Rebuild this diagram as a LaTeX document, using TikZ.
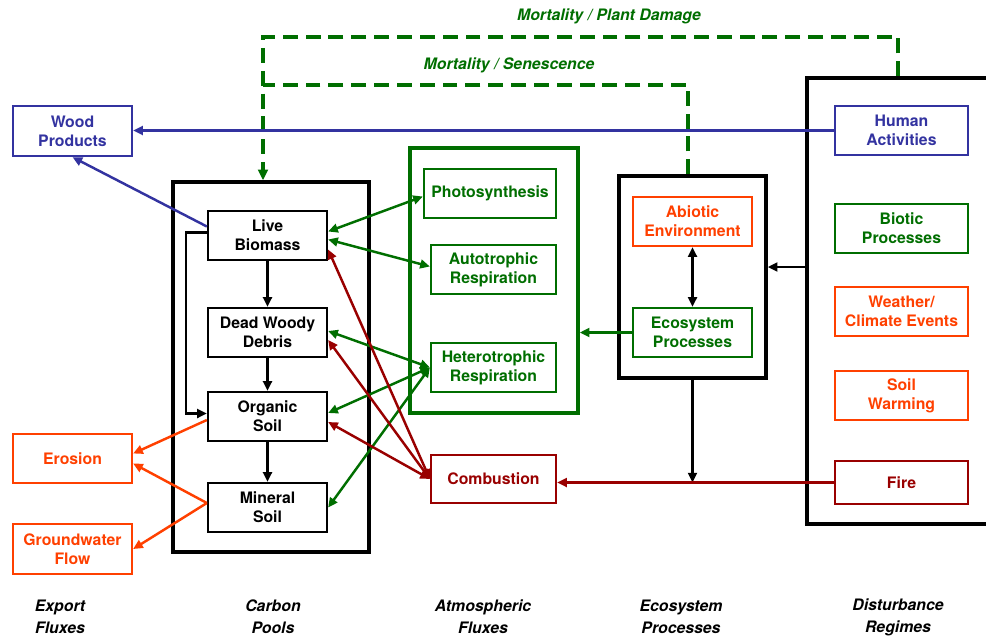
\documentclass[tikz,border=0pt]{standalone}
\usepackage{fontspec}
\setmainfont{TeX Gyre Heros}
\usetikzlibrary{arrows.meta,calc}
\definecolor{cblue}{RGB}{51,51,160}
\definecolor{cgreen}{RGB}{0,110,0}
\definecolor{corange}{RGB}{255,64,0}
\definecolor{cred}{RGB}{153,0,0}
\tikzset{
  box/.style={draw, line width=1.3pt, align=center, inner sep=0pt,
    font=\fontsize{9}{10.8}\selectfont\bfseries},
  sz/.style 2 args={minimum width=#1*0.02cm, minimum height=#2*0.02cm},
  pool/.style={draw, line width=2pt, inner sep=0pt},
  flow/.style={line width=1.4pt, -{Triangle[length=5.5pt,width=5pt]}},
  both/.style={line width=1.4pt,
    {Triangle[length=5.5pt,width=5pt]}-{Triangle[length=5.5pt,width=5pt]}},
  mort/.style={cgreen, line width=2pt, dash pattern=on 8.5pt off 4.5pt},
  lbl/.style={align=center, font=\fontsize{9}{12.5}\selectfont\bfseries\itshape},
}
\begin{document}
\begin{tikzpicture}[x=0.02cm, y=-0.02cm]
  \useasboundingbox (0,0) rectangle (986,639);
  % group frames
  \node[pool, sz={196}{370}] (pools) at (271,367) {};
  \node[pool, cgreen, sz={168}{265}] (atmos) at (494,280.5) {};
  \node[pool, sz={147}{202}] (ecosys) at (692.5,277) {};
  \node[pool, sz={193}{446}] (disturb) at (903.5,301) {};
  % export fluxes
  \node[box, cblue, sz={119}{50}] (wood) at (72.5,131) {Wood\\Products};
  \node[box, corange, sz={119}{49}] (erosion) at (72.5,458.5) {Erosion};
  \node[box, corange, sz={119}{50}] (gwflow) at (72.5,549) {Groundwater\\Flow};
  % carbon pools
  \node[box, sz={119}{49}] (live) at (267.5,235.5) {Live\\Biomass};
  \node[box, sz={119}{49}] (dead) at (267.5,332.5) {Dead Woody\\Debris};
  \node[box, sz={119}{49}] (organic) at (267.5,416.5) {Organic\\Soil};
  \node[box, sz={119}{49}] (mineral) at (267.5,507.5) {Mineral\\Soil};
  % atmospheric fluxes
  \node[box, cgreen, sz={132}{49}] (photo) at (490,193.5) {Photosynthesis};
  \node[box, cgreen, sz={125}{49}] (auto) at (493.5,269.5) {Autotrophic\\Respiration};
  \node[box, cgreen, sz={125}{49}] (hetero) at (493.5,367.5) {Heterotrophic\\Respiration};
  \node[box, cred, sz={125}{48}] (combust) at (493.5,479) {Combustion};
  % ecosystem processes
  \node[box, corange, sz={119}{49}] (abiotic) at (692.5,221.5) {Abiotic\\Environment};
  \node[box, cgreen, sz={119}{49}] (ecoproc) at (692.5,332.5) {Ecosystem\\Processes};
  % disturbance regimes
  \node[box, cblue, sz={133}{49}] (human) at (901.5,130.5) {Human\\Activities};
  \node[box, cgreen, sz={133}{49}] (biotic) at (901.5,228.5) {Biotic\\Processes};
  \node[box, corange, sz={133}{49}] (weather) at (901.5,311.5) {Weather/\\Climate Events};
  \node[box, corange, sz={133}{49}] (warming) at (901.5,395.5) {Soil\\Warming};
  \node[box, cred, sz={133}{43}] (fire) at (901.5,482.5) {Fire};
  % mortality
  \coordinate (pdR) at (898,37);
  \coordinate (pdL) at (263,37);
  \coordinate (msR) at (688,85);
  \coordinate (msL) at (263,85);
  \draw[mort, -{Triangle[length=6pt,width=5.5pt]}]
    (pdR |- disturb.north) -- (pdR) -- (pdL) -- (pdL |- pools.north);
  \draw[mort] (msR |- ecosys.north) -- (msR) -- (msL);
  \node[lbl, cgreen] (pdlbl) at (609,16) {Mortality / Plant Damage};
  \node[lbl, cgreen] (mslbl) at (509,65) {Mortality / Senescence};
  % black links
  \coordinate (dw) at ($(disturb.west)+(0,-34)$);
  \draw[flow] (live) -- (dead);
  \draw[flow] (dead) -- (organic);
  \draw[flow] (organic) -- (mineral);
  \draw[flow] ($(live.west)+(0,-3)$) -- ++(-21,0) |- ($(organic.west)+(0,-3)$);
  \draw[both] (abiotic) -- (ecoproc);
  \draw[flow] (ecosys.south) -- (ecosys.south |- fire.west);
  \draw[flow] (dw) -- (dw -| ecosys.east);
  % blue links
  \draw[flow, cblue] (human.west) -- (human.west -| wood.east);
  \draw[flow, cblue] ($(live.west)+(0,-9)$) -- (wood.south);
  % green links
  \draw[both, cgreen] ($(live.east)+(0,-4)$) -- ($(photo.west)+(0,3)$);
  \draw[both, cgreen] ($(live.east)+(0,4)$) -- ($(auto.west)+(0,-3)$);
  \draw[both, cgreen] ($(dead.east)+(0,-1.5)$) -- (hetero.west);
  \draw[both, cgreen] ($(organic.east)+(0,-3.5)$) -- (hetero.west);
  \draw[both, cgreen] (mineral.east) -- (hetero.west);
  \draw[flow, cgreen] (ecoproc.west) -- (ecoproc.west -| atmos.east);
  % red links
  \draw[both, cred] ($(live.east)+(0,14)$) -- (combust.west);
  \draw[both, cred] ($(dead.east)+(0,7.5)$) -- (combust.west);
  \draw[both, cred] ($(organic.east)+(0,5.5)$) -- (combust.west);
  \draw[flow, cred] (fire.west) -- (fire.west -| combust.east);
  % orange links
  \draw[flow, corange] ($(organic.west)+(0,3.5)$) -- ($(erosion.east)+(0,-5)$);
  \draw[flow, corange] ($(mineral.west)+(0,-4.5)$) -- ($(erosion.east)+(0,5)$);
  \draw[flow, corange] ($(mineral.west)+(0,-4.5)$) -- (gwflow.east);
  % column captions
  \node[lbl] (cexport) at (60,617) {Export\\Fluxes};
  \node[lbl] (cpools) at (273,617) {Carbon\\Pools};
  \node[lbl] (catmos) at (483,617) {Atmospheric\\Fluxes};
  \node[lbl] (cecosys) at (681,617) {Ecosystem\\Processes};
  \node[lbl] (cdisturb) at (898,617) {Disturbance\\Regimes};
\end{tikzpicture}
\end{document}
